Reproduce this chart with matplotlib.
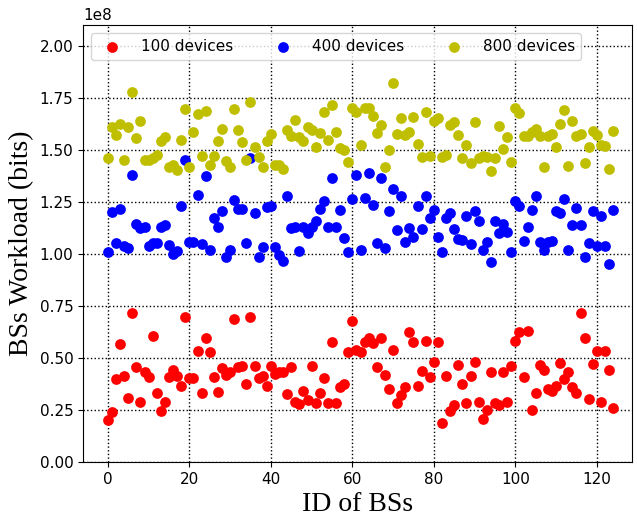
import matplotlib
matplotlib.use("Agg")
import matplotlib.pyplot as plt
import numpy as np

ids = list(range(125))

dev100 = [0.202, 0.239, 0.399, 0.566, 0.415, 0.306, 0.715, 0.458, 0.290, 0.431,
          0.409, 0.607, 0.333, 0.245, 0.290, 0.410, 0.442, 0.415, 0.367, 0.696,
          0.405, 0.405, 0.534, 0.330, 0.595, 0.530, 0.410, 0.338, 0.453, 0.418,
          0.434, 0.686, 0.458, 0.463, 0.375, 0.699, 0.462, 0.402, 0.415, 0.367,
          0.463, 0.422, 0.431, 0.431, 0.328, 0.458, 0.290, 0.279, 0.341, 0.298,
          0.463, 0.282, 0.333, 0.402, 0.282, 0.575, 0.282, 0.362, 0.373, 0.530,
          0.678, 0.538, 0.530, 0.575, 0.595, 0.571, 0.458, 0.595, 0.418, 0.351,
          0.538, 0.282, 0.322, 0.362, 0.624, 0.579, 0.367, 0.438, 0.582, 0.410,
          0.479, 0.579, 0.189, 0.415, 0.247, 0.274, 0.466, 0.375, 0.282, 0.415,
          0.479, 0.287, 0.207, 0.250, 0.431, 0.282, 0.274, 0.431, 0.287, 0.463,
          0.582, 0.626, 0.409, 0.630, 0.248, 0.330, 0.466, 0.442, 0.351, 0.341,
          0.367, 0.477, 0.399, 0.431, 0.362, 0.330, 0.718, 0.598, 0.303, 0.471,
          0.535, 0.287, 0.535, 0.440, 0.260]

dev400 = [1.011, 1.200, 1.051, 1.215, 1.038, 1.027, 1.380, 1.144, 1.123, 1.128,
          1.040, 1.054, 1.051, 1.128, 1.138, 1.043, 1.000, 1.016, 1.232, 1.449,
          1.058, 1.059, 1.284, 1.048, 1.375, 1.019, 1.172, 1.128, 1.204, 0.984,
          1.019, 1.260, 1.215, 1.215, 1.051, 1.460, 1.196, 0.987, 1.035, 1.225,
          1.228, 1.035, 0.995, 0.965, 1.280, 1.123, 1.131, 1.016, 1.131, 1.100,
          1.131, 1.160, 1.215, 1.252, 1.131, 1.364, 1.128, 1.212, 1.078, 1.011,
          1.264, 1.380, 1.019, 1.268, 1.388, 1.236, 1.054, 1.364, 1.027, 1.204,
          1.311, 1.115, 1.276, 1.059, 1.123, 1.080, 1.231, 1.122, 1.280, 1.175,
          1.212, 1.080, 1.011, 1.175, 1.196, 1.119, 1.071, 1.067, 1.183, 1.047,
          1.204, 1.160, 1.019, 1.059, 0.963, 1.160, 1.100, 1.144, 1.107, 1.011,
          1.256, 1.228, 1.063, 1.131, 1.212, 1.279, 1.058, 1.019, 1.059, 1.064,
          1.204, 1.196, 1.263, 1.019, 1.138, 1.220, 1.138, 0.984, 1.051, 1.204,
          1.038, 1.180, 1.040, 0.950, 1.210]

dev800 = [1.462, 1.609, 1.571, 1.625, 1.452, 1.612, 1.780, 1.556, 1.640, 1.452,
          1.450, 1.460, 1.474, 1.545, 1.564, 1.420, 1.428, 1.404, 1.546, 1.696,
          1.417, 1.587, 1.673, 1.471, 1.686, 1.428, 1.471, 1.545, 1.600, 1.447,
          1.417, 1.697, 1.596, 1.538, 1.452, 1.732, 1.513, 1.468, 1.420, 1.542,
          1.575, 1.425, 1.428, 1.407, 1.596, 1.567, 1.644, 1.564, 1.545, 1.609,
          1.596, 1.516, 1.583, 1.680, 1.548, 1.715, 1.585, 1.508, 1.497, 1.441,
          1.699, 1.680, 1.524, 1.699, 1.699, 1.663, 1.580, 1.620, 1.420, 1.500,
          1.820, 1.575, 1.652, 1.572, 1.587, 1.657, 1.526, 1.468, 1.683, 1.471,
          1.640, 1.655, 1.468, 1.476, 1.620, 1.636, 1.572, 1.460, 1.524, 1.436,
          1.633, 1.463, 1.471, 1.465, 1.400, 1.460, 1.615, 1.503, 1.564, 1.442,
          1.699, 1.676, 1.569, 1.569, 1.588, 1.601, 1.567, 1.420, 1.567, 1.577,
          1.513, 1.625, 1.692, 1.423, 1.641, 1.567, 1.575, 1.439, 1.513, 1.593,
          1.572, 1.524, 1.520, 1.410, 1.590]

series = [("100 devices", dev100, "r"),
          ("400 devices", dev400, "b"),
          ("800 devices", dev800, "y")]

fig = plt.figure(figsize=(6.37, 5.21), dpi=100)
ax = fig.add_axes([0.1303, 0.1132, 0.8617, 0.8388])

for label, vals, col in series:
    ax.scatter(ids, np.array(vals) * 1e8, s=60, c=col, label=label, zorder=3,
               linewidths=0)

ax.set_xlim(-6.1, 128.6)
ax.set_ylim(0, 2.1e8)
ax.set_xticks([0, 20, 40, 60, 80, 100, 120])
ax.set_yticks(np.arange(0, 2.01e8, 0.25e8))
ax.yaxis.set_major_formatter(matplotlib.ticker.FuncFormatter(lambda v, p: f"{v/1e8:.2f}"))
ax.text(0.0, 1.005, "1e8", transform=ax.transAxes, fontsize=11, ha="left", va="bottom")
ax.tick_params(labelsize=11)
ax.grid(True, linestyle=":", color="black", linewidth=1.0)
ax.set_axisbelow(True)

ax.set_xlabel("ID of BSs", fontsize=20, family="Liberation Serif")
ax.set_ylabel("BSs Workload (bits)", fontsize=20, family="Liberation Serif")

ax.legend(loc="upper left", ncol=3, fontsize=11, scatterpoints=1,
          handletextpad=0.9, columnspacing=2.25)

fig.savefig("out.png", dpi=100)
